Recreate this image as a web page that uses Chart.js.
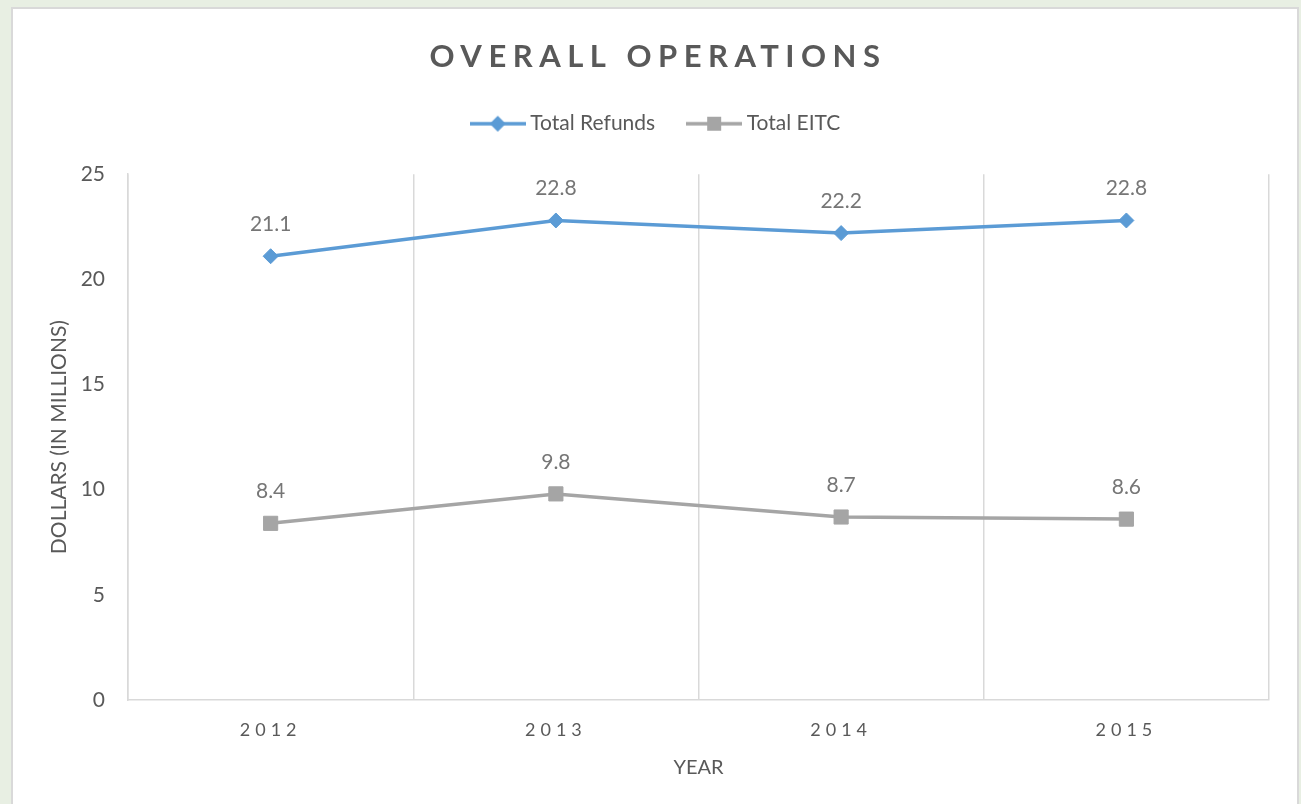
<!DOCTYPE html>
<html lang="en">
<head>
  <meta charset="UTF-8" />
  <title>Overall Operations</title>
  <script src="https://cdn.jsdelivr.net/npm/chart.js"></script>
  <style>
    html, body { margin: 0; padding: 0; }
    body {
      width: 1301px; height: 804px; overflow: hidden;
      background: #e8efe3;
    }
    #box {
      position: absolute; left: 11px; top: 7px;
      width: 1284px; height: 800px;
      background: #fff;
      border: 2px solid #d9d9d9;
    }
  </style>
</head>
<body>
  <div id="box"><canvas id="myChart" width="1284" height="797"></canvas></div>

  <script>
    const years = ['2012', '2013', '2014', '2015'];
    const totalRefunds = [21.1, 22.8, 22.2, 22.8];
    const totalEitc = [8.4, 9.8, 8.7, 8.6];
    const yTicks = [0, 5, 10, 15, 20, 25];

    const FONT = 'Lato, "Open Sans", sans-serif';
    const TEXT = '#595959';
    const BLUE = '#5b9bd5';
    const GRAY = '#a5a5a5';

    // legend sample: a short line with the marker in the middle
    function legendIcon(color, shape) {
      const c = document.createElement('canvas');
      c.width = 56; c.height = 18;
      const g = c.getContext('2d');
      g.strokeStyle = color;
      g.lineWidth = 3.5;
      g.beginPath(); g.moveTo(0, 9); g.lineTo(56, 9); g.stroke();
      g.fillStyle = color;
      g.beginPath();
      if (shape === 'diamond') {
        g.moveTo(28, 1); g.lineTo(36, 9); g.lineTo(28, 17); g.lineTo(20, 9);
      } else {
        g.rect(21, 2, 14, 14);
      }
      g.closePath(); g.fill();
      return c;
    }
    const icons = [legendIcon(BLUE, 'diamond'), legendIcon(GRAY, 'square')];

    // canvas letter spacing for the title and the year labels
    function withSpacing(obj, fn, sp) {
      if (!obj || obj['_sp_' + fn]) return;
      const orig = obj[fn].bind(obj);
      obj[fn] = function (...a) {
        const ctx = this.ctx;
        const old = ctx.letterSpacing;
        ctx.letterSpacing = sp;
        orig(...a);
        ctx.letterSpacing = old;
      };
      obj['_sp_' + fn] = true;
    }
    const tweaks = {
      id: 'tweaks',
      afterInit(chart) {
        // leave some room under the legend, like the original
        const lg = chart.legend;
        const fit = lg.fit.bind(lg);
        lg.fit = function () { fit(); this.height += 30; };
      },
      beforeDraw(chart) {
        withSpacing(chart.titleBlock, 'draw', '6.5px');
        withSpacing(chart.scales.x, 'drawLabels', '5px');
      }
    };

    const valueLabels = {
      id: 'valueLabels',
      afterDatasetsDraw(chart) {
        const ctx = chart.ctx;
        ctx.save();
        ctx.font = '21px ' + FONT;
        ctx.fillStyle = '#767676';
        ctx.textAlign = 'center';
        ctx.textBaseline = 'middle';
        chart.data.datasets.forEach((ds, i) => {
          chart.getDatasetMeta(i).data.forEach((pt, j) => {
            ctx.fillText(ds.data[j].toFixed(1), pt.x, pt.y - 32);
          });
        });
        ctx.restore();
      }
    };

    const ctx = document.getElementById('myChart').getContext('2d');
    const chart = new Chart(ctx, {
      type: 'line',
      data: {
        labels: years,
        datasets: [{
          label: 'Total Refunds',
          data: totalRefunds,
          borderColor: BLUE,
          backgroundColor: BLUE,
          borderWidth: 3.5,
          pointStyle: 'rectRot',
          pointRadius: 7.5,
          pointBorderWidth: 1,
          tension: 0
        }, {
          label: 'Total EITC',
          data: totalEitc,
          borderColor: GRAY,
          backgroundColor: GRAY,
          borderWidth: 3.5,
          pointStyle: 'rect',
          pointRadius: 10,
          pointBorderWidth: 1,
          tension: 0
        }]
      },
      plugins: [tweaks, valueLabels],
      options: {
        responsive: false,
        animation: false,
        layout: { padding: { left: 34, right: 28, top: 29, bottom: 26 } },
        plugins: {
          title: {
            display: true,
            text: 'OVERALL OPERATIONS',
            color: TEXT,
            font: { family: FONT, size: 31, weight: 'bold' },
            padding: { top: 0, bottom: 1 }
          },
          legend: {
            labels: {
              usePointStyle: true,
              pointStyleWidth: 44,
              color: TEXT,
              font: { family: FONT, size: 21 },
              padding: 37,
              generateLabels(chart) {
                return chart.data.datasets.map((ds, i) => ({
                  text: ds.label,
                  pointStyle: icons[i],
                  fontColor: TEXT,
                  datasetIndex: i,
                  lineWidth: 0,
                  hidden: false
                }));
              }
            }
          },
          tooltip: { enabled: false }
        },
        scales: {
          x: {
            offset: true,
            afterFit(scale) { scale.height = 80; },
            grid: { display: true, offset: true, color: '#d9d9d9', lineWidth: 1.5, drawTicks: false },
            border: { display: true, color: '#d9d9d9', width: 1.5 },
            ticks: { color: TEXT, font: { family: FONT, size: 18 }, padding: 19 },
            title: { display: true, text: 'YEAR', color: TEXT, font: { family: FONT, size: 20 }, padding: 0 }
          },
          y: {
            min: 0,
            max: 25,
            afterBuildTicks(scale) { scale.ticks = yTicks.map(v => ({ value: v })); },
            afterFit(scale) { scale.width = 81; },
            grid: { display: false, drawTicks: false },
            border: { display: true, color: '#d9d9d9', width: 1.5 },
            ticks: { color: TEXT, font: { family: FONT, size: 21 }, padding: 23 },
            title: { display: true, text: 'DOLLARS (IN MILLIONS)', color: TEXT, font: { family: FONT, size: 21 }, padding: 0 }
          }
        }
      }
    });
    chart.draw();
  </script>
</body>
</html>
